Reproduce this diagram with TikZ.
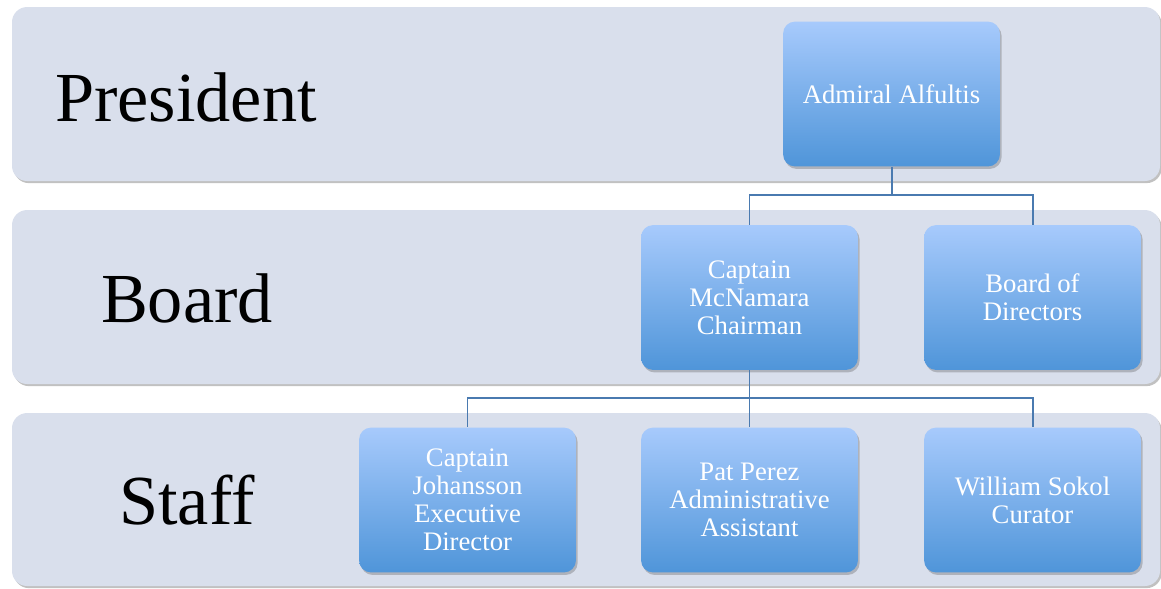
\documentclass[tikz,border=0pt]{standalone}
\usepackage{fontspec}
\setmainfont{Liberation Serif}
\usetikzlibrary{shadows}
\definecolor{bandfill}{RGB}{217,223,236}
\definecolor{boxtop}{RGB}{167,202,252}
\definecolor{boxbot}{RGB}{79,149,217}
\definecolor{linkcol}{RGB}{74,122,176}
\tikzset{
  band/.style={fill=bandfill, rounded corners=0.38cm,
    drop shadow={shadow xshift=1.2pt, shadow yshift=-1.5pt, opacity=0.35, fill=black!70}},
  level/.style={font=\fontsize{50}{54}\selectfont, text=black},
  post/.style={rounded corners=0.3cm, minimum width=5.42cm, minimum height=3.62cm,
    top color=boxtop, bottom color=boxbot, text=white, align=center,
    font=\fontsize{19}{19.8}\selectfont,
    drop shadow={shadow xshift=1.2pt, shadow yshift=-1.8pt, opacity=0.3, fill=black!70}},
  link/.style={draw=linkcol, line width=1.4pt}
}
\begin{document}
\begin{tikzpicture}[x=0.025cm, y=-0.025cm]
\useasboundingbox (0,0) rectangle (1161,588);
% bands
\fill[band] (12,7) rectangle (1160,181);
\fill[band] (12,210) rectangle (1160,384);
\fill[band] (12,413) rectangle (1160,586);
\node[level] (president) at (186,97) {President};
\node[level] (board) at (187,298) {Board};
\node[level] (staff) at (187,500) {Staff};
% boxes
\node[post] (adm) at (891.5,94) {Admiral Alfultis};
\node[post] (mcn) at (749.5,297.5) {Captain\\McNamara\\Chairman};
\node[post] (bod) at (1032.5,297.5) {Board of\\Directors};
\node[post] (joh) at (467.5,500) {Captain\\Johansson\\Executive\\Director};
\node[post] (pat) at (749.5,500) {Pat Perez\\Administrative\\Assistant};
\node[post] (sok) at (1032.5,500) {William Sokol\\Curator};
% connectors
\coordinate (fork1) at (891.5,195);
\coordinate (fork2) at (749.5,398);
\draw[link] (adm.south) -- (fork1) -| (mcn.north);
\draw[link] (fork1) -| (bod.north);
\draw[link] (mcn.south) -- (pat.north);
\draw[link] (fork2) -| (joh.north);
\draw[link] (fork2) -| (sok.north);
\end{tikzpicture}
\end{document}
